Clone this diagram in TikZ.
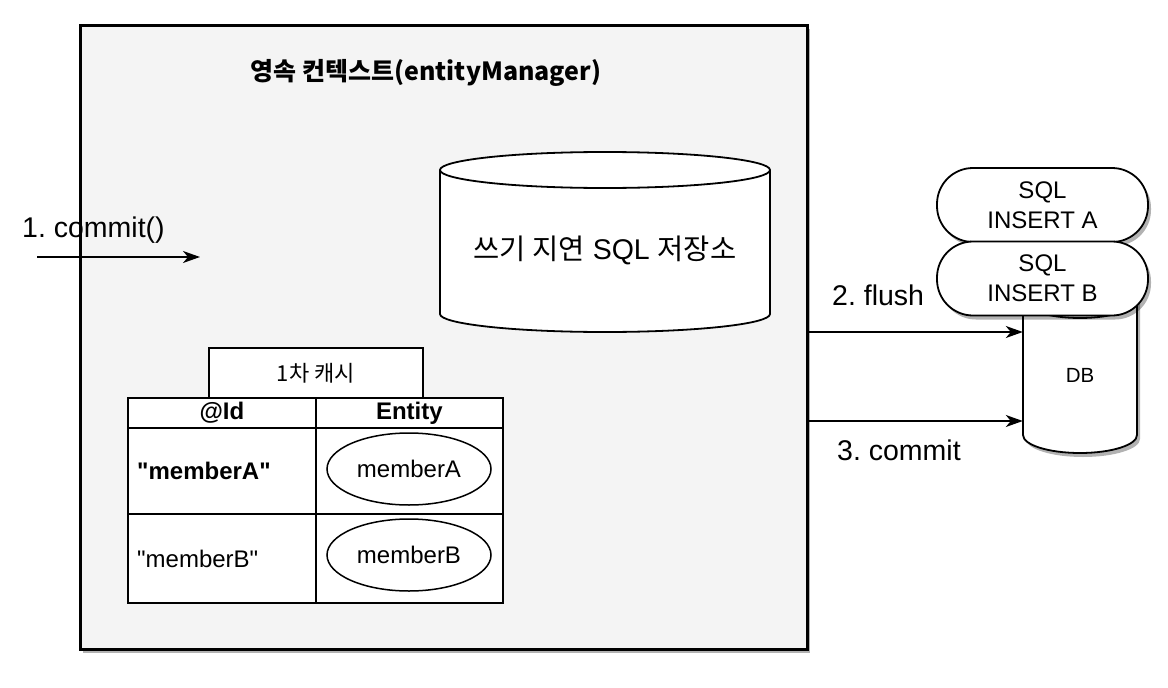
\documentclass[tikz,border=0pt]{standalone}
\usepackage{fontspec}
\setmainfont{Liberation Sans}
\newfontfamily\rawsans{Liberation Sans}
\newfontfamily\kr{Noto Sans CJK KR}
\usetikzlibrary{shadows,arrows.meta,shapes.geometric}
\definecolor{panel}{HTML}{F4F4F4}
\frenchspacing
\newcommand\drawcyl[6]{% cx top bottom rx ry options
 \filldraw[#6] ({#1-#4},#2) -- ({#1-#4},#3) .. controls ({#1-#4},{#3+0.552*#5}) and ({#1-0.552*#4},{#3+#5}) .. (#1,{#3+#5}) .. controls ({#1+0.552*#4},{#3+#5}) and ({#1+#4},{#3+0.552*#5}) .. ({#1+#4},#3) -- ({#1+#4},#2) .. controls ({#1+#4},{#2-0.552*#5}) and ({#1+0.552*#4},{#2-#5}) .. (#1,{#2-#5}) .. controls ({#1-0.552*#4},{#2-#5}) and ({#1-#4},{#2-0.552*#5}) .. cycle;
 \draw[line width=1.8pt] ({#1-#4},#2) .. controls ({#1-#4},{#2+0.552*#5}) and ({#1-0.552*#4},{#2+#5}) .. (#1,{#2+#5}) .. controls ({#1+0.552*#4},{#2+#5}) and ({#1+#4},{#2+0.552*#5}) .. ({#1+#4},#2);
}
\begin{document}
\begin{tikzpicture}[x=1pt,y=-1pt,
  shade/.style={drop shadow={shadow xshift=3pt,shadow yshift=-4pt,opacity=0.3,fill=black}},
  cell/.style={draw,fill=white,line width=1.8pt,inner sep=0pt,anchor=north west},
  lab/.style={font=\fontsize{28.5}{34}\selectfont,inner sep=0pt},
  tabtxt/.style={font=\fontsize{24}{29}\selectfont,inner sep=0pt},
  sqlbox/.style={draw,fill=white,line width=1.8pt,rounded corners=36pt,minimum width=211pt,minimum height=74pt,align=center,font=\fontsize{24}{30}\selectfont,inner sep=0pt,shade},
  arr/.style={line width=1.6pt,-{Stealth[length=17pt,width=12pt,inset=5pt]}}]
\useasboundingbox (0,0) rectangle (1168,688);
% persistence context panel
\node[draw,fill=panel,line width=2.5pt,minimum width=727pt,minimum height=624pt,anchor=north west,inner sep=0pt,shade] (pc) at (79,24) {};
\node[font=\kr\bfseries\fontsize{25}{30}\selectfont,inner sep=0pt] (title) at (426,73) {영속 컨텍스트(entityManager)};
% write-behind SQL store cylinder
\drawcyl{605}{170}{314}{165}{18}{fill=white,line width=1.8pt}
\node[font=\fontsize{28.5}{34}\selectfont,inner sep=0pt] (store) at (605,250) {{\kr 쓰기 지연} SQL {\kr 저장소}};
% first-level cache
\node[cell,minimum width=214pt,minimum height=51pt,font=\kr\fontsize{22}{26}\selectfont] (cache) at (208,347) {1차 캐시};
\node[cell,minimum width=188pt,minimum height=30pt] (hid) at (127,397) {};
\node[cell,minimum width=187pt,minimum height=30pt] (hent) at (315,397) {};
\node[cell,minimum width=188pt,minimum height=86pt] (ida) at (127,427) {};
\node[cell,minimum width=187pt,minimum height=86pt] (enta) at (315,427) {};
\node[cell,minimum width=188pt,minimum height=89pt] (idb) at (127,513) {};
\node[cell,minimum width=187pt,minimum height=89pt] (entb) at (315,513) {};
\node[tabtxt,font=\bfseries\fontsize{24}{29}\selectfont] (hidt) at (hid.center) {@Id};
\node[tabtxt,font=\bfseries\fontsize{24}{29}\selectfont] (hentt) at (hent.center) {Entity};
\node[tabtxt,font=\rawsans\bfseries\fontsize{24}{29}\selectfont,anchor=west] (idat) at ([xshift=10pt]ida.west) {"memberA"};
\node[tabtxt,font=\rawsans\fontsize{24}{29}\selectfont,anchor=west] (idbt) at ([xshift=10pt,yshift=-1pt]idb.west) {"memberB"};
\node[ellipse,draw,fill=white,line width=1.5pt,minimum width=164pt,minimum height=72pt,tabtxt] (ma) at (409,469) {memberA};
\node[ellipse,draw,fill=white,line width=1.5pt,minimum width=164pt,minimum height=72pt,tabtxt] (mb) at (409,555) {memberB};
% DB
\drawcyl{1080}{300}{435}{57}{18}{fill=white,line width=1.8pt,shade}
\node[minimum width=114pt,minimum height=150pt,inner sep=0pt,font=\fontsize{20.5}{24}\selectfont] (db) at (1080,375) {DB};
\node[sqlbox] (sqla) at (1042.5,205) {SQL\\INSERT A};
\node[sqlbox] (sqlb) at (1042.5,278.5) {SQL\\INSERT B};
% connectors
\coordinate (c1s) at (37,257);
\coordinate (c1e) at (200,257);
\draw[arr] (c1s) -- (c1e);
\node[lab,anchor=base west] (l1) at (22,237) {1. commit()};
\coordinate (fy) at (0,332);
\coordinate (cy) at (0,421);
\draw[arr] (pc.east |- fy) -- (db.west |- fy);
\draw[arr] (pc.east |- cy) -- (db.west |- cy);
\node[lab,anchor=base west] (l2) at (832,305) {2. flush};
\node[lab,anchor=base west] (l3) at (837,460) {3. commit};
\end{tikzpicture}
\end{document}
